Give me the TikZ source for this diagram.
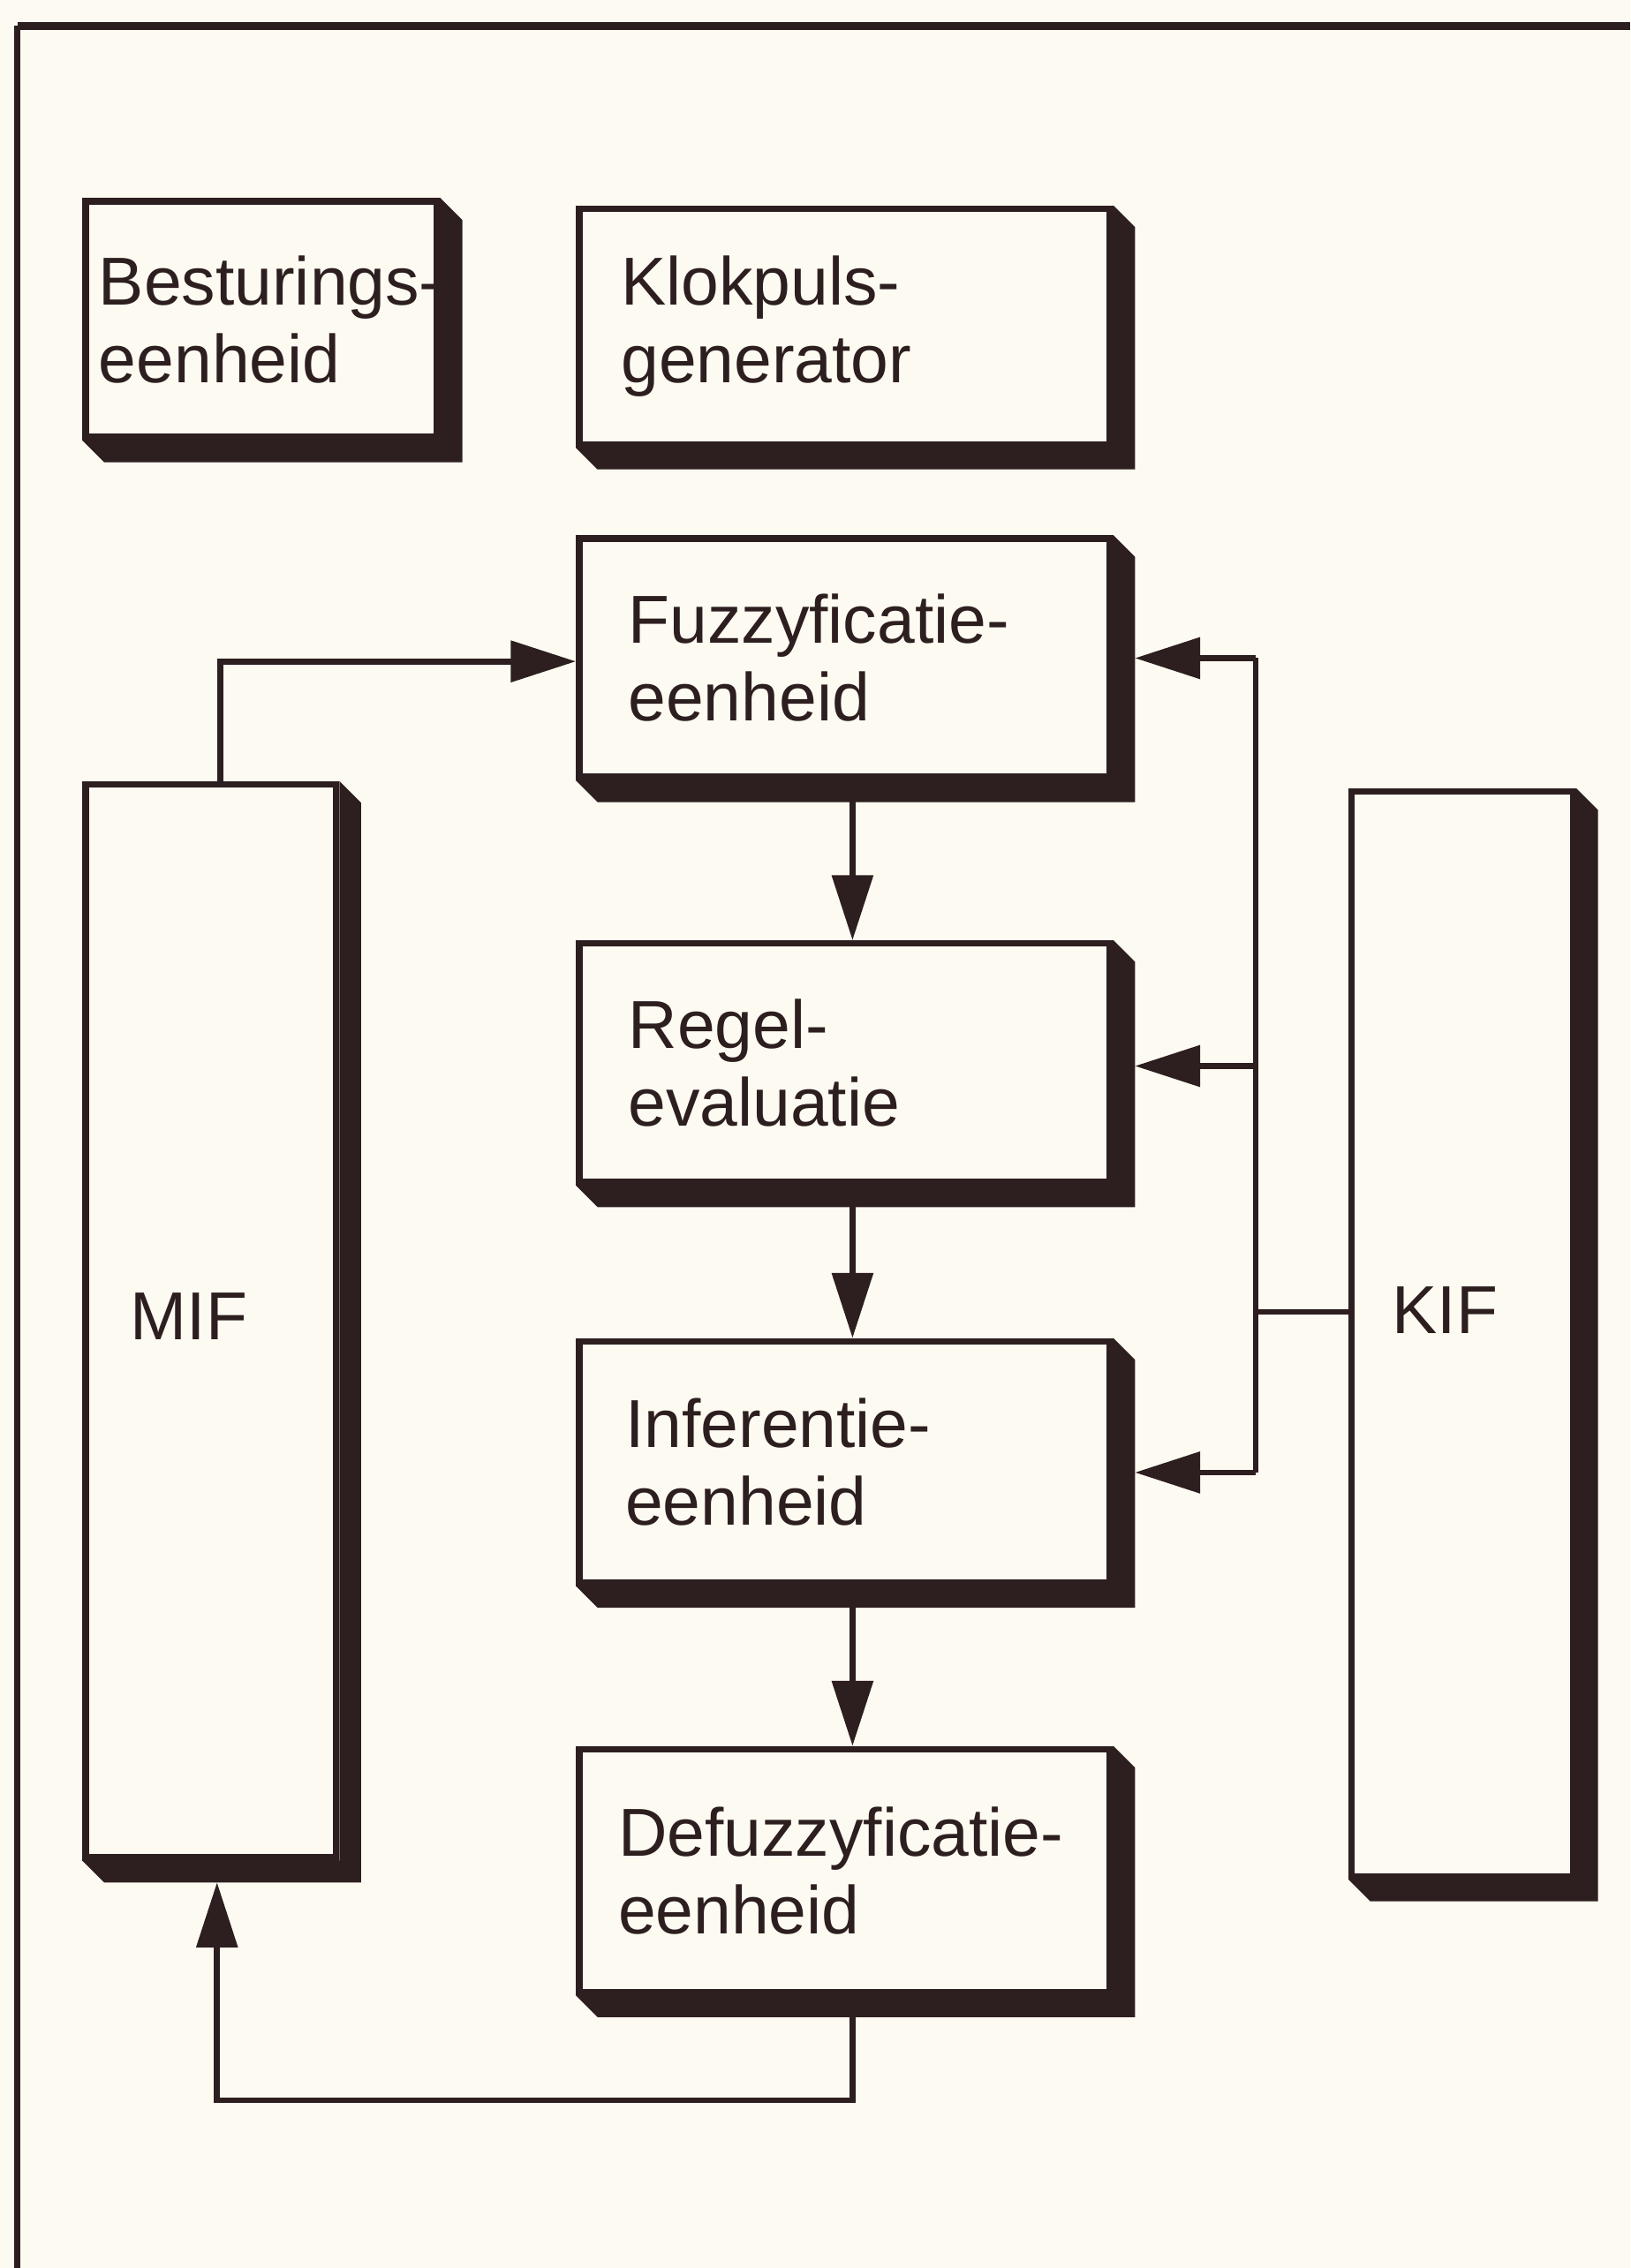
\documentclass[tikz,border=0pt]{standalone}
\usepackage{fontspec}
\newfontfamily\labfont{Liberation Sans}
\usetikzlibrary{arrows.meta}
\definecolor{ink}{RGB}{45,30,32}
\definecolor{paper}{RGB}{253,251,241}
\newcommand{\dropshade}[1]{%
  \fill[ink] (#1.north east) -- ([shift={(0.3cm,-0.3cm)}]#1.north east)
    -- ([shift={(0.3cm,-0.3cm)}]#1.south east)
    -- ([shift={(0.3cm,-0.3cm)}]#1.south west)
    -- (#1.south west) -- (#1.south east) -- cycle;}
\begin{document}
\begin{tikzpicture}[x=0.02cm,y=-0.02cm,
  unit/.style={draw=ink, line width=2.6pt, fill=paper, rectangle, anchor=north west,
    inner ysep=0pt, align=left, text=ink,
    font=\labfont\fontsize{26.7pt}{30.5pt}\selectfont},
  conn/.style={draw=ink, line width=2.3pt},
  arr/.style={conn, -{Triangle[length=0.9cm,width=0.56cm]}}]
\fill[paper] (0,0) rectangle (1127,1568);
\useasboundingbox (0,0) rectangle (1127,1568);
% frame
\draw[ink, line width=2.8pt] (12,18) -- (1127,18);
\draw[ink, line width=2.4pt] (12,18) -- (12,1568);
% units
\node[unit, minimum width=4.86cm, minimum height=3.26cm, inner xsep=0.18cm, text width=4.5cm] (bes) at (57,137) {\mbox{Besturings-}\\eenheid};
\node[unit, minimum width=7.34cm, minimum height=3.26cm, inner xsep=0.58cm, text width=6.18cm] (klok) at (398,142) {Klokpuls-\\generator};
\node[unit, minimum width=7.34cm, minimum height=3.30cm, inner xsep=0.68cm, text width=5.98cm] (fuzzy) at (398,370) {Fuzzyficatie-\\eenheid};
\node[unit, minimum width=7.34cm, minimum height=3.30cm, inner xsep=0.68cm, text width=5.98cm] (regel) at (398,650) {Regel-\\evaluatie};
\node[unit, minimum width=7.34cm, minimum height=3.34cm, inner xsep=0.64cm, text width=6.06cm] (infer) at (398,925) {Inferentie-\\eenheid};
\node[unit, minimum width=7.34cm, minimum height=3.36cm, inner xsep=0.54cm, text width=6.26cm] (defuz) at (398,1207) {\mbox{Defuzzyficatie-}\\eenheid};
\node[unit, minimum width=3.46cm, minimum height=14.84cm, inner xsep=0.62cm, text width=2.22cm] (mif) at (57,540) {\raisebox{-0.26cm}[0pt][0pt]{MIF}};
\node[unit, minimum width=3.06cm, minimum height=15.0cm, inner xsep=0.56cm, text width=1.94cm] (kif) at (932,545) {\raisebox{0pt}[0pt][0pt]{KIF}};
% shadows
\foreach \n in {bes,klok,fuzzy,regel,infer,defuz,mif,kif} {\dropshade{\n}}
% coordinates
\coordinate (fuzzyE) at ([xshift=0.3cm]fuzzy.east);
\coordinate (regelE) at ([xshift=0.3cm]regel.east);
\coordinate (inferE) at ([xshift=0.3cm]infer.east);
\coordinate (mifN) at ([xshift=0.13cm]mif.north);
\coordinate (mifS) at ([xshift=0.13cm,yshift=-0.3cm]mif.south);
\coordinate (busT) at (868,455);
\coordinate (busR) at (868,737);
\coordinate (busB) at (868,1018);
\coordinate (busK) at (868,907);
\coordinate (fb) at (150,1452);
% connectors
\draw[arr] (mifN) |- ([yshift=-0.05cm]fuzzy.west);
\draw[arr] ([xshift=0.11cm]fuzzy.south) -- ([xshift=0.11cm]regel.north);
\draw[arr] ([xshift=0.11cm]regel.south) -- ([xshift=0.11cm]infer.north);
\draw[arr] ([xshift=0.11cm]infer.south) -- ([xshift=0.11cm]defuz.north);
\draw[arr] ([xshift=0.11cm]defuz.south) |- (fb) -- (fb |- mifS);
\draw[conn] (kif.west |- busK) -- (busK);
\draw[conn] (busT) -- (busB);
\draw[arr] (busT) -- (busT -| fuzzyE);
\draw[arr] (busR) -- (busR -| regelE);
\draw[arr] (busB) -- (busB -| inferE);
\end{tikzpicture}
\end{document}
